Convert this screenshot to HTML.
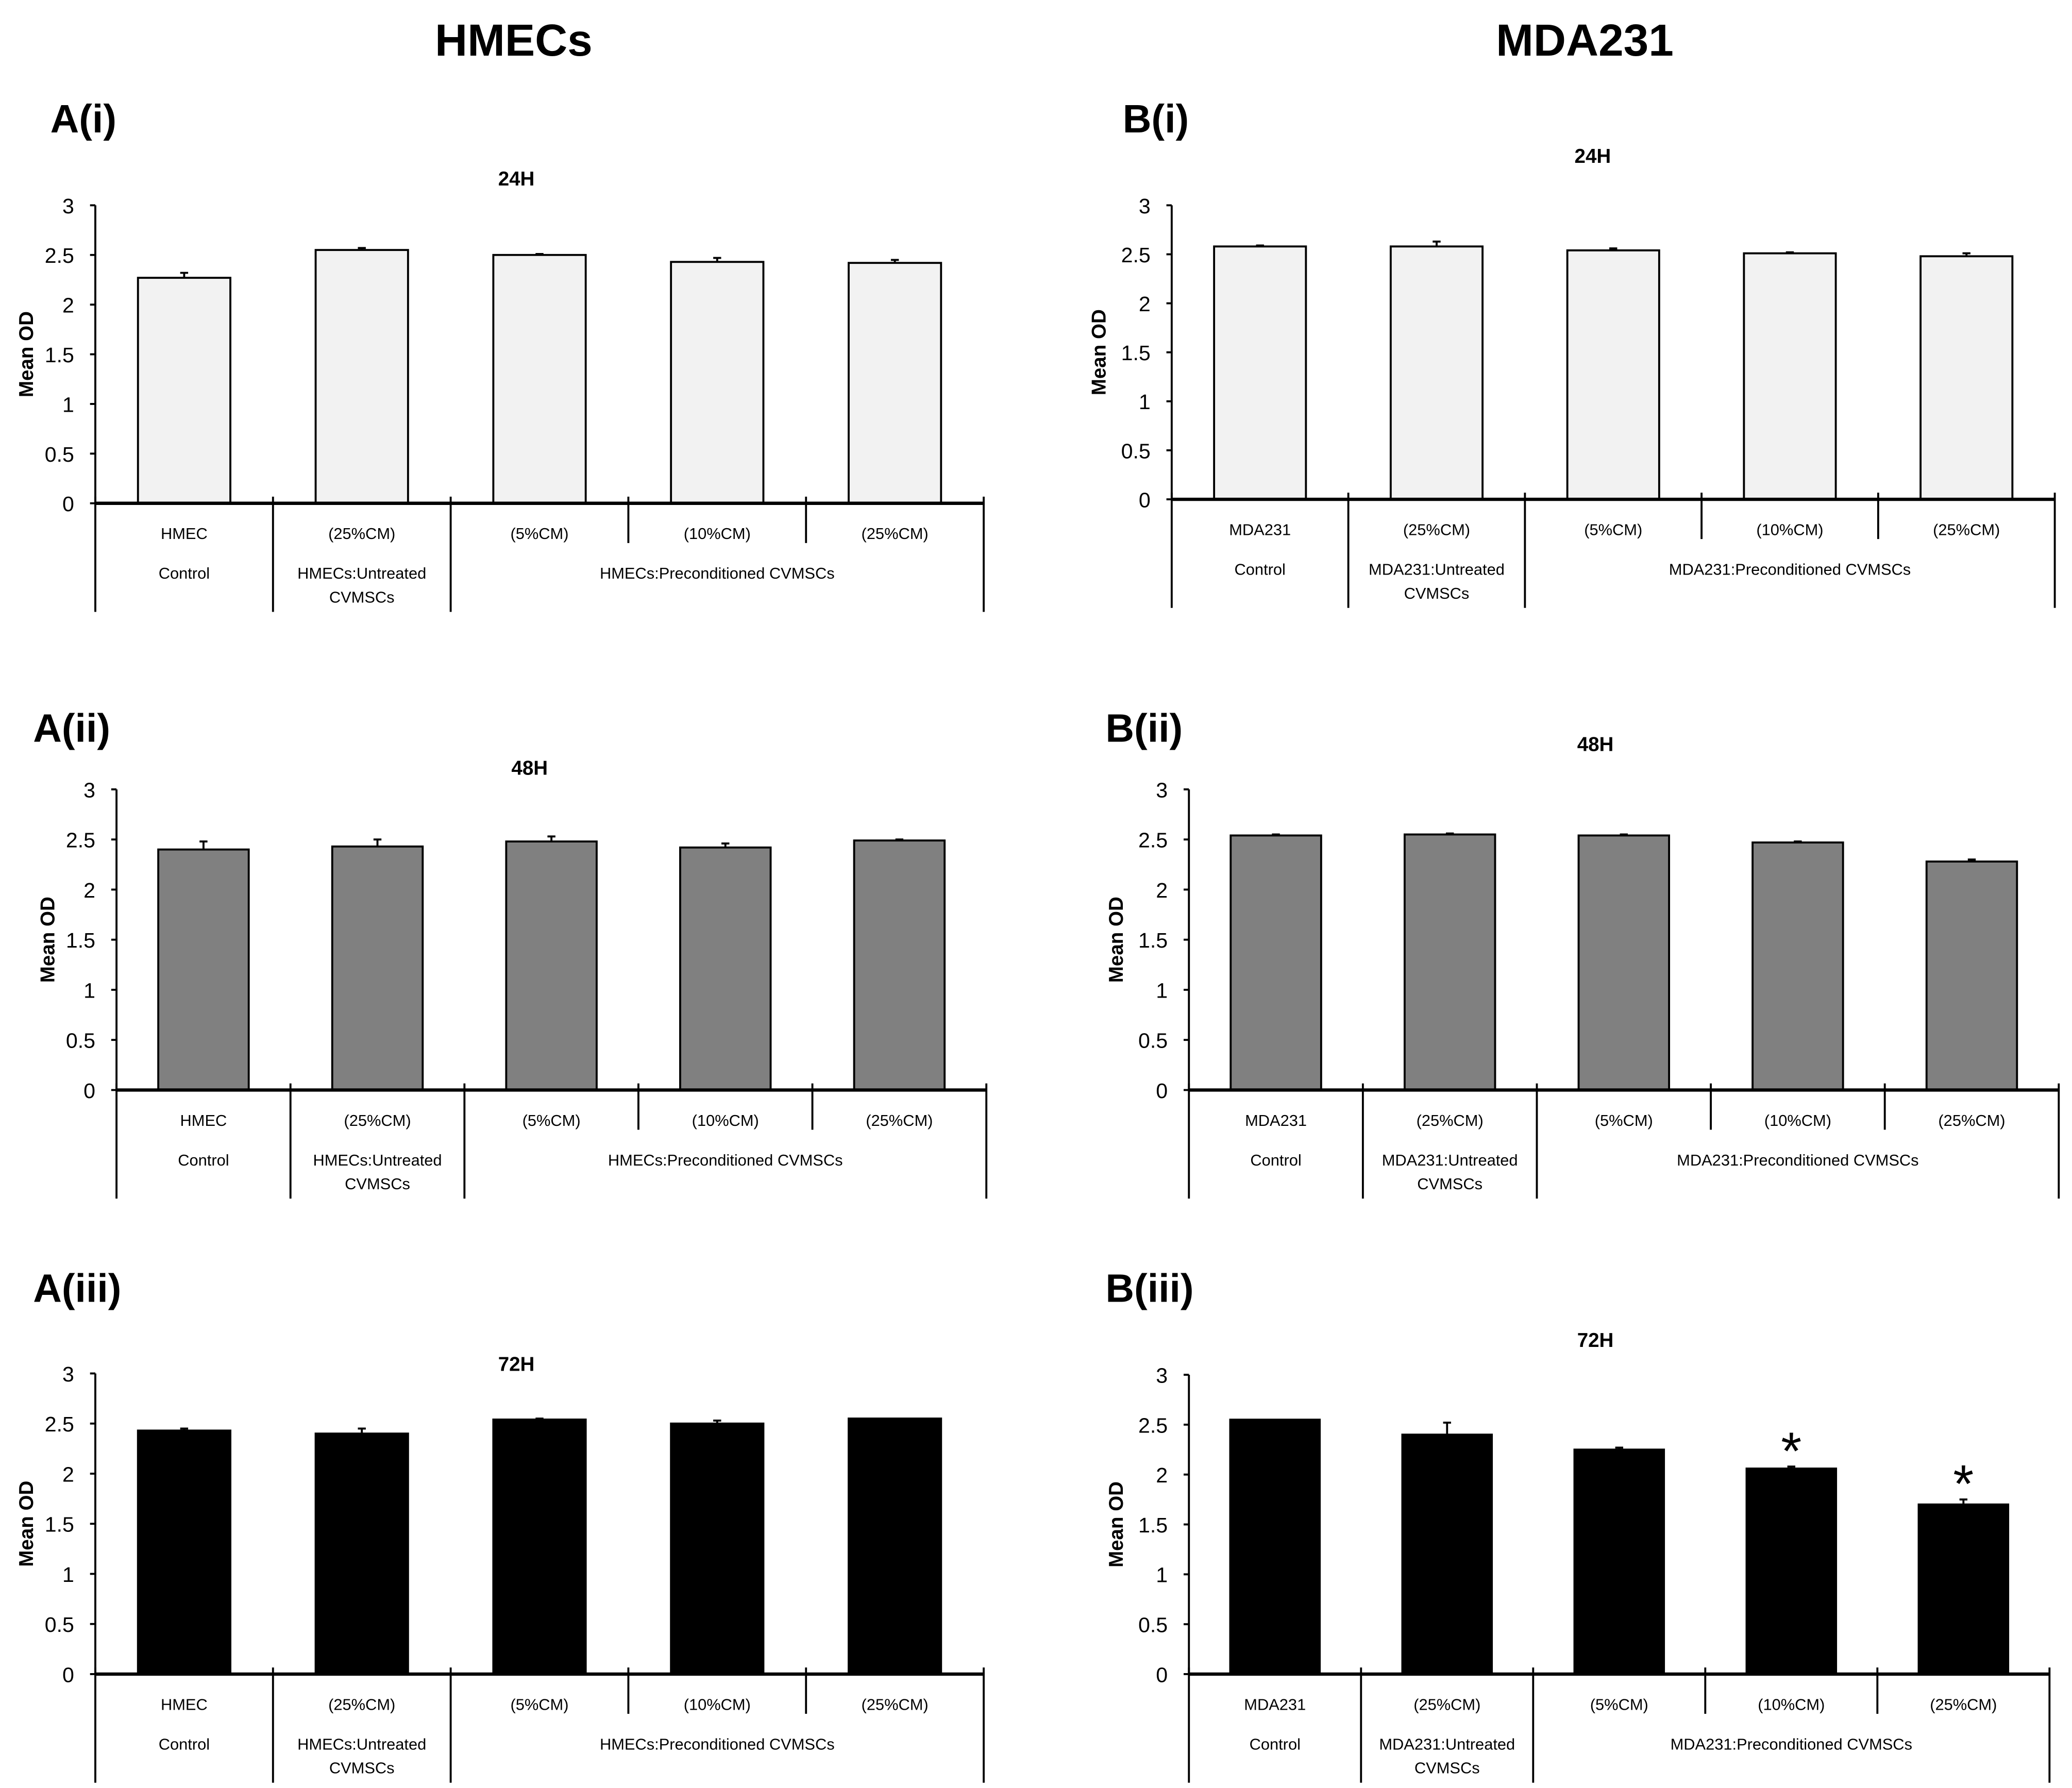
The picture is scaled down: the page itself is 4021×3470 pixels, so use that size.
<!DOCTYPE html>
<html><head><meta charset="utf-8"><style>html,body{margin:0;padding:0;background:#fff}svg{display:block}</style></head>
<body>
<svg id="fig" width="4021" height="3470" viewBox="0 0 1565 1350" preserveAspectRatio="none" xmlns="http://www.w3.org/2000/svg" font-family="Liberation Sans, sans-serif">
<rect width="1565" height="1350" fill="#fff"/>
<text x="388" y="42" font-size="34" font-weight="bold" text-anchor="middle">HMECs</text>
<text x="1197" y="42" font-size="34" font-weight="bold" text-anchor="middle">MDA231</text>
</svg>
<script>
const valuesAi=[2.27,2.55,2.50,2.43,2.42];
const errAi=[0.05,0.02,0.01,0.04,0.03];
const valuesBi=[2.58,2.58,2.54,2.51,2.48];
const errBi=[0.01,0.05,0.02,0.01,0.03];
const valuesAii=[2.40,2.43,2.48,2.42,2.49];
const errAii=[0.08,0.07,0.05,0.04,0.01];
const valuesBii=[2.54,2.55,2.54,2.47,2.28];
const errBii=[0.01,0.01,0.01,0.01,0.02];
const valuesAiii=[2.43,2.40,2.54,2.50,2.55];
const errAiii=[0.02,0.05,0.01,0.03,0.0];
const valuesBiii=[2.55,2.40,2.25,2.06,1.70];
const errBiii=[0.0,0.12,0.02,0.02,0.05];
const starsBiii=[false,false,false,true,true];
const yTicks=[0,0.5,1,1.5,2,2.5,3];
const catsA=["HMEC","(25%CM)","(5%CM)","(10%CM)","(25%CM)"];
const catsB=["MDA231","(25%CM)","(5%CM)","(10%CM)","(25%CM)"];
const groupsA=["Control","HMECs:Untreated","HMECs:Preconditioned CVMSCs"];
const groupsB=["Control","MDA231:Untreated","MDA231:Preconditioned CVMSCs"];

const NS="http://www.w3.org/2000/svg";
const svg=document.getElementById('fig');
function mk(tag,attrs,parent,text){const e=document.createElementNS(NS,tag);for(const k in attrs)e.setAttribute(k,attrs[k]);if(text!==undefined)e.textContent=text;(parent||svg).appendChild(e);return e;}

const panels=[
 {id:'a-i',lbl:'A(i)',lx:38,ly:100,title:'24H',tx:390,ty:140,x0:72,x1:743,yt:155,yz:380,fill:'#f2f2f2',vals:valuesAi,errs:errAi,cats:catsA,groups:groupsA,ylx:20,stars:null},
 {id:'b-i',lbl:'B(i)',lx:848,ly:100,title:'24H',tx:1203,ty:123,x0:885,x1:1552,yt:155,yz:377,fill:'#f2f2f2',vals:valuesBi,errs:errBi,cats:catsB,groups:groupsB,ylx:830,stars:null},
 {id:'a-ii',lbl:'A(ii)',lx:25,ly:560,title:'48H',tx:400,ty:585,x0:88,x1:745,yt:596,yz:823,fill:'#808080',vals:valuesAii,errs:errAii,cats:catsA,groups:groupsA,ylx:36,stars:null},
 {id:'b-ii',lbl:'B(ii)',lx:835,ly:560,title:'48H',tx:1205,ty:567,x0:898,x1:1555,yt:596,yz:823,fill:'#808080',vals:valuesBii,errs:errBii,cats:catsB,groups:groupsB,ylx:843,stars:null},
 {id:'a-iii',lbl:'A(iii)',lx:25,ly:983,title:'72H',tx:390,ty:1035,x0:72,x1:743,yt:1037,yz:1264,fill:'#000',vals:valuesAiii,errs:errAiii,cats:catsA,groups:groupsA,ylx:20,stars:null},
 {id:'b-iii',lbl:'B(iii)',lx:835,ly:983,title:'72H',tx:1205,ty:1017,x0:898,x1:1548,yt:1038,yz:1264,fill:'#000',vals:valuesBiii,errs:errBiii,cats:catsB,groups:groupsB,ylx:843,stars:starsBiii}
];

panels.forEach(p=>{
 const g=mk('g',{});
 
 
 const y=v=>p.yz-(v/3)*(p.yz-p.yt);
 const cw=(p.x1-p.x0)/p.vals.length;
 const bw=cw*0.52;
 const pl=mk('text',{x:p.lx,y:p.ly,'font-size':30,'font-weight':'bold'},g,p.lbl);
 
 
 const tt=mk('text',{x:p.tx,y:p.ty,'font-size':15,'font-weight':'bold','text-anchor':'middle'},g,p.title);
 
 
 const yl=mk('text',{x:0,y:0,'font-size':15,'font-weight':'bold','text-anchor':'middle',transform:`translate(${p.ylx+5},${(p.yt+p.yz)/2}) rotate(-90)`},g,'Mean OD');
 
 
 // bars
 p.vals.forEach((v,i)=>{
  const cx=p.x0+cw*(i+0.5);
  const r=mk('rect',{x:cx-bw/2,y:y(v),width:bw,height:p.yz-y(v),fill:p.fill,stroke:'#000','stroke-width':1.5},g);
  
  
  const e=p.errs[i];
  if(e>0){
   const el=mk('path',{d:`M${cx},${y(v)} V${y(v+e)} M${cx-3},${y(v+e)} H${cx+3}`,stroke:'#000','stroke-width':1.5,fill:'none'},g);
   
   
  }
  if(p.stars&&p.stars[i]){
   const s=mk('text',{x:cx,y:y(v+e)+2,'font-size':40,'text-anchor':'middle'},g,'*');
   
   
  }
 });
 // y axis
 const ya=mk('line',{x1:p.x0,y1:p.yt,x2:p.x0,y2:p.yz,stroke:'#000','stroke-width':1.5},g);
 
 
 yTicks.forEach(t=>{
  mk('line',{x1:p.x0-4,y1:y(t),x2:p.x0,y2:y(t),stroke:'#000','stroke-width':1.5},g);
  const tl=mk('text',{x:p.x0-16,y:y(t)+6,'font-size':16,'text-anchor':'end'},g,String(t));
  
  
 });
 const xa=mk('line',{x1:p.x0,y1:p.yz,x2:p.x1,y2:p.yz,stroke:'#000','stroke-width':2.5},g);
 
 
 // separators
 const h=p.yz;
 for(let i=0;i<=5;i++){
  const x=p.x0+cw*i;
  const full=(i===0||i===1||i===2||i===5);
  mk('line',{x1:x,y1:h-5,x2:x,y2:full?h+82:h+30,stroke:'#000','stroke-width':1.5},g);
 }
 p.cats.forEach((c,i)=>{
  const t=mk('text',{x:p.x0+cw*(i+0.5),y:h+27,'font-size':12,'text-anchor':'middle'},g,c);
  
  
 });
 const gx=[p.x0+cw*0.5,p.x0+cw*1.5,p.x0+cw*3.5];
 p.groups.forEach((c,i)=>{
  const t=mk('text',{x:gx[i],y:h+57,'font-size':12,'text-anchor':'middle'},g,c);
  
  
 });
 const t2=mk('text',{x:gx[1],y:h+75,'font-size':12,'text-anchor':'middle'},g,'CVMSCs');
 
 
});
</script>
</body></html>
